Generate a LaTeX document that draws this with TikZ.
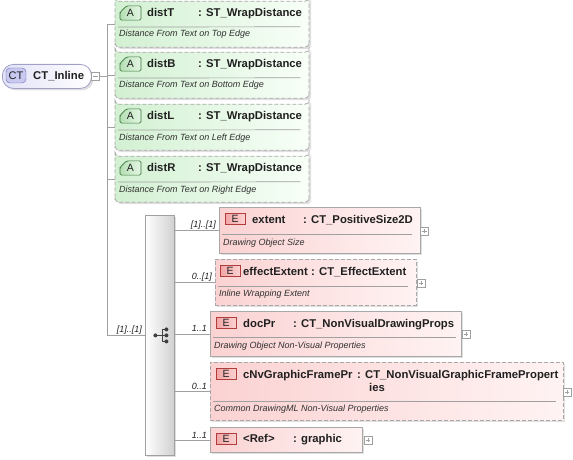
\documentclass[tikz,border=0pt]{standalone}
\usepackage{fontspec}
\setmainfont{Liberation Sans}
\usepackage{tikz}
\usetikzlibrary{shapes.misc}
\usetikzlibrary{shadows}

\definecolor{lineGray}{HTML}{A0A0A0}
\definecolor{boxGray}{HTML}{A8A8A8}
\definecolor{txtDark}{HTML}{202020}
\definecolor{descDark}{HTML}{303030}
\definecolor{attrGreen}{HTML}{D2F0D2}
\definecolor{attrWhite}{HTML}{F8FFF8}
\definecolor{aBadgeFill}{HTML}{B4DEB4}
\definecolor{aBadgeLine}{HTML}{3C783C}
\definecolor{elemPink}{HTML}{FBD2D2}
\definecolor{elemWhite}{HTML}{FFF3F3}
\definecolor{eBadgeFill}{HTML}{F2A4A4}
\definecolor{eBadgeLine}{HTML}{B03C3C}
\definecolor{rootBlue}{HTML}{E2E2F8}
\definecolor{rootLine}{HTML}{A0A0C8}
\definecolor{ctBadgeFill}{HTML}{C8C8F0}
\definecolor{ctBadgeLine}{HTML}{6C6CB0}
\definecolor{seqGray}{HTML}{D0D0D0}
\definecolor{iconDark}{HTML}{404040}

\tikzset{
  conn/.style={draw=lineGray, line width=0.8pt},
  sepline/.style={draw=lineGray, line width=0.7pt},
  boxshadow/.style={drop shadow={shadow xshift=2pt, shadow yshift=-2pt, fill=black!25, opacity=0.5}},
  optional/.style={dashed, dash pattern=on 4pt off 2pt},
  rootbox/.style={rectangle, rounded corners=11pt, draw=rootLine, line width=0.8pt,
    left color=rootBlue, right color=white, anchor=north west, inner sep=0pt,
    minimum width=89pt, minimum height=24pt, boxshadow},
  ctbadge/.style={rectangle, rounded corners=4pt, draw=ctBadgeLine, fill=ctBadgeFill,
    minimum width=20pt, minimum height=15pt, inner sep=0pt, text=txtDark,
    font=\fontsize{11}{13}\selectfont},
  attrbox/.style={chamfered rectangle, chamfered rectangle corners=north west,
    chamfered rectangle xsep=5pt, chamfered rectangle ysep=9pt, rounded corners=4pt,
    draw=boxGray, line width=0.8pt, optional, left color=attrGreen, right color=attrWhite,
    anchor=north west, inner sep=0pt, minimum width=194pt, minimum height=46pt, boxshadow},
  abadge/.style={chamfered rectangle, chamfered rectangle corners=north west,
    chamfered rectangle xsep=3pt, chamfered rectangle ysep=5pt, rounded corners=1.5pt,
    draw=aBadgeLine, line width=0.7pt, left color=aBadgeFill, right color=attrGreen!60,
    minimum width=21pt, minimum height=12pt, inner sep=0pt, text=txtDark,
    font=\fontsize{10.5}{12}\selectfont},
  elembox/.style={rectangle, draw=boxGray, line width=0.8pt, left color=elemPink,
    right color=elemWhite, anchor=north west, inner sep=0pt, boxshadow},
  ebadge/.style={rectangle, draw=eBadgeLine, line width=0.7pt, left color=eBadgeFill,
    right color=elemPink, minimum width=20pt, minimum height=11pt, inner sep=0pt,
    text=txtDark, font=\fontsize{10.5}{12}\selectfont},
  seqbox/.style={rectangle, draw=lineGray, line width=0.8pt, left color=white,
    right color=seqGray, anchor=north west, minimum width=29pt, minimum height=240pt,
    inner sep=0pt, boxshadow},
  nametext/.style={anchor=base west, inner sep=0pt, text=txtDark,
    font=\bfseries\fontsize{11.3}{13}\selectfont},
  desctext/.style={anchor=base west, inner sep=0pt, text=descDark,
    font=\itshape\fontsize{9}{11}\selectfont},
  multtext/.style={anchor=base east, inner sep=0pt, text=txtDark,
    font=\itshape\fontsize{9}{11}\selectfont},
  togglebox/.style={rectangle, draw=lineGray, fill=white, line width=0.6pt,
    minimum size=8pt, inner sep=0pt},
  collapse/.style={togglebox, path picture={
    \draw[lineGray] ([xshift=-2.2pt]path picture bounding box.center) -- ([xshift=2.2pt]path picture bounding box.center);}},
  expand/.style={togglebox, path picture={
    \draw[lineGray] ([xshift=-2.2pt]path picture bounding box.center) -- ([xshift=2.2pt]path picture bounding box.center);
    \draw[lineGray] ([yshift=-2.2pt]path picture bounding box.center) -- ([yshift=2.2pt]path picture bounding box.center);}},
}

\begin{document}
\begin{tikzpicture}[x=1pt,y=-1pt]
  \useasboundingbox (0,0) rectangle (573,460);

  % root type
  \node[rootbox] (inline) at (2,64) {};
  \node[ctbadge] (inlinebadge) at (16,75.5) {CT};
  \node[nametext] (inlinename) at (33,80) {CT\_Inline};
  \node[collapse] (inlinecollapse) at (95.5,76) {};
  \coordinate (trunk) at (107,76);

  % attributes
  \node[attrbox] (distT) at (115,1) {};
  \node[abadge] (distTbadge) at (130.5,13) {A};
  \node[nametext] (distTname) at (147,16.5) {distT};
  \node[nametext] (distTtype) at (198,16.5) {: ST\_WrapDistance};
  \draw[sepline] ([shift={(3,26)}]distT.north west) -- ([shift={(-9,26)}]distT.north east);
  \node[desctext] (distTdesc) at (119,37) {Distance From Text on Top Edge};

  \node[attrbox] (distB) at (115,52) {};
  \node[abadge] (distBbadge) at (130.5,64) {A};
  \node[nametext] (distBname) at (147,67.5) {distB};
  \node[nametext] (distBtype) at (198,67.5) {: ST\_WrapDistance};
  \draw[sepline] ([shift={(3,26)}]distB.north west) -- ([shift={(-9,26)}]distB.north east);
  \node[desctext] (distBdesc) at (119,88) {Distance From Text on Bottom Edge};

  \node[attrbox] (distL) at (115,104) {};
  \node[abadge] (distLbadge) at (130.5,116) {A};
  \node[nametext] (distLname) at (147,119.5) {distL};
  \node[nametext] (distLtype) at (198,119.5) {: ST\_WrapDistance};
  \draw[sepline] ([shift={(3,26)}]distL.north west) -- ([shift={(-9,26)}]distL.north east);
  \node[desctext] (distLdesc) at (119,140) {Distance From Text on Left Edge};

  \node[attrbox] (distR) at (115,156) {};
  \node[abadge] (distRbadge) at (130.5,168) {A};
  \node[nametext] (distRname) at (147,171.5) {distR};
  \node[nametext] (distRtype) at (198,171.5) {: ST\_WrapDistance};
  \draw[sepline] ([shift={(3,26)}]distR.north west) -- ([shift={(-9,26)}]distR.north east);
  \node[desctext] (distRdesc) at (119,192) {Distance From Text on Right Edge};

  % sequence compositor
  \node[seqbox] (seq) at (145,215) {};
  \draw[iconDark, line width=1pt] ([shift={(-4.5,0)}]seq.center) -- ([shift={(2.5,0)}]seq.center)
    ([shift={(2.5,-6)}]seq.center) -- ([shift={(2.5,6)}]seq.center)
    ([shift={(2.5,-6)}]seq.center) -- ([shift={(6.5,-6)}]seq.center)
    ([shift={(2.5,0)}]seq.center) -- ([shift={(6.5,0)}]seq.center)
    ([shift={(2.5,6)}]seq.center) -- ([shift={(6.5,6)}]seq.center);
  \fill[iconDark] ([shift={(-4.5,0)}]seq.center) circle (2pt)
    ([shift={(6.5,-6)}]seq.center) circle (2pt)
    ([shift={(6.5,0)}]seq.center) circle (2pt)
    ([shift={(6.5,6)}]seq.center) circle (2pt);

  % elements
  \node[elembox, minimum width=201pt, minimum height=46pt] (extent) at (219,207) {};
  \node[ebadge] (extentbadge) at (235,219) {E};
  \node[nametext] (extentname) at (252,223) {extent};
  \node[nametext] (extenttype) at (303,223) {: CT\_PositiveSize2D};
  \draw[sepline] ([shift={(3,27)}]extent.north west) -- ([shift={(-9,27)}]extent.north east);
  \node[desctext] (extentdesc) at (223,245) {Drawing Object Size};
  \node[expand] (extentplus) at (424.5,231) {};

  \node[elembox, optional, minimum width=201pt, minimum height=46pt] (effectExtent) at (215,259) {};
  \node[ebadge] (effectExtentbadge) at (230,271) {E};
  \node[nametext] (effectExtentname) at (243,275) {effectExtent};
  \node[nametext] (effectExtenttype) at (311,275) {: CT\_EffectExtent};
  \draw[sepline] ([shift={(3,27)}]effectExtent.north west) -- ([shift={(-9,27)}]effectExtent.north east);
  \node[desctext] (effectExtentdesc) at (219,296) {Inline Wrapping Extent};
  \node[expand] (effectExtentplus) at (421,283) {};

  \node[elembox, minimum width=251pt, minimum height=45pt] (docPr) at (210,311) {};
  \node[ebadge] (docPrbadge) at (226,322.5) {E};
  \node[nametext] (docPrname) at (243,327) {docPr};
  \node[nametext] (docPrtype) at (293,327) {: CT\_NonVisualDrawingProps};
  \draw[sepline] ([shift={(3,26)}]docPr.north west) -- ([shift={(-6,26)}]docPr.north east);
  \node[desctext] (docPrdesc) at (214,348) {Drawing Object Non-Visual Properties};
  \node[expand] (docPrplus) at (466,334) {};

  \node[elembox, optional, minimum width=353pt, minimum height=58pt] (cNv) at (210,362) {};
  \node[ebadge] (cNvbadge) at (226,373.5) {E};
  \node[nametext] (cNvname) at (243,378) {cNvGraphicFramePr};
  \node[nametext] (cNvtype) at (357,378) {: CT\_NonVisualGraphicFramePropert};
  \node[nametext] (cNvtypeend) at (369,391) {ies};
  \draw[sepline] ([shift={(3,39)}]cNv.north west) -- ([shift={(-8,39)}]cNv.north east);
  \node[desctext] (cNvdesc) at (214,411) {Common DrawingML Non-Visual Properties};
  \node[expand] (cNvplus) at (567,392) {};

  \node[elembox, minimum width=152pt, minimum height=25pt] (graphic) at (210,427) {};
  \node[ebadge] (graphicbadge) at (226,438.5) {E};
  \node[nametext] (graphicname) at (243,442) {<Ref>};
  \node[nametext] (graphictype) at (293,442) {: graphic};
  \node[expand] (graphicplus) at (368,440) {};

  % connectors
  \draw[conn] (inlinecollapse.east) -- (trunk);
  \draw[conn] (distT.west -| trunk) -- (seq.west -| trunk) -- (seq.west);
  \draw[conn] (distT.west -| trunk) -- (distT.west);
  \draw[conn] (distB.west -| trunk) -- (distB.west);
  \draw[conn] (distL.west -| trunk) -- (distL.west);
  \draw[conn] (distR.west -| trunk) -- (distR.west);
  \draw[conn] (seq.east |- extent.west) -- (extent.west);
  \draw[conn] (seq.east |- effectExtent.west) -- (effectExtent.west);
  \draw[conn] (seq.east |- docPr.west) -- (docPr.west);
  \draw[conn] (seq.east |- cNv.west) -- (cNv.west);
  \draw[conn] (seq.east |- graphic.west) -- (graphic.west);

  % occurrences
  \node[multtext] (seqmult) at (142,332) {[1]..[1]};
  \node[multtext] (extentmult) at (216,227) {[1]..[1]};
  \node[multtext] (effectExtentmult) at (212,279) {0..[1]};
  \node[multtext] (docPrmult) at (207,331) {1..1};
  \node[multtext] (cNvmult) at (207,389) {0..1};
  \node[multtext] (graphicmult) at (207,438) {1..1};
\end{tikzpicture}
\end{document}
